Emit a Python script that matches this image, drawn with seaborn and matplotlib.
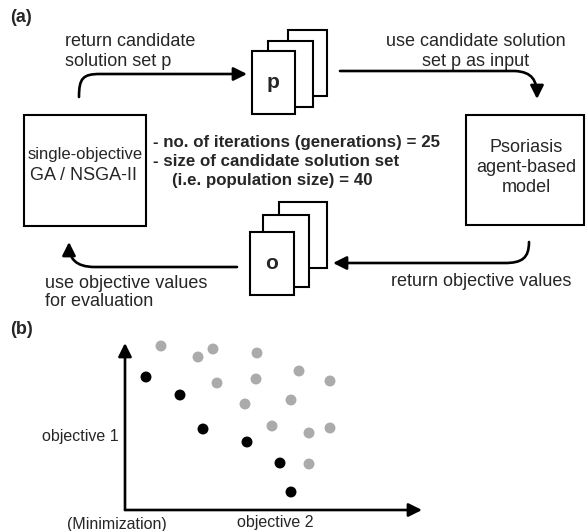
import numpy as np
import pandas as pd
import seaborn as sns
import matplotlib.pyplot as plt
from matplotlib.patches import Rectangle, FancyArrowPatch
from matplotlib.path import Path

# panel (b): candidate solutions in objective space (objective 2, objective 1)
front_obj2 = [21, 55, 78, 122, 155, 166]
front_obj1 = [133, 115, 81, 68, 47, 18]
other_obj2 = [36, 73, 88, 132, 174, 205, 92, 131, 120, 166, 147, 184, 205, 184]
other_obj1 = [164, 153, 161, 157, 139, 129, 127, 131, 106, 110, 84, 77, 82, 46]

# panel (a) labels
algo_lines = ["single-objective", "GA / NSGA-II"]
model_lines = ["Psoriasis", "agent-based", "model"]
settings_lines = ["- no. of iterations (generations) = 25",
                  "- size of candidate solution set",
                  "    (i.e. population size) = 40"]

sns.set_theme(style="white")
plt.rcParams['font.family'] = ['Liberation Sans', 'DejaVu Sans']

W, H = 586, 531
fig = plt.figure(figsize=(W / 100, H / 100), dpi=100)
fig.patch.set_facecolor("white")

# full-figure axes in pixel coords for the flow diagram
ax = fig.add_axes([0, 0, 1, 1])
ax.set_xlim(0, W)
ax.set_ylim(H, 0)
ax.axis("off")

LW = 1.5
FS = 13
HEAD = "-|>,head_length=0.8,head_width=0.4"

def box(x0, y0, x1, y1, z=2):
    ax.add_patch(Rectangle((x0, y0), x1 - x0, y1 - y0, fill=True, facecolor="white",
                           edgecolor="black", lw=LW, zorder=z))

def stack(frames, label):
    # back sheet first, front sheet last (on top)
    for i, (x0, y0, x1, y1) in enumerate(frames):
        box(x0, y0, x1, y1, z=2 + i)
    x0, y0, x1, y1 = frames[-1]
    ax.text((x0 + x1) / 2, (y0 + y1) / 2, label, ha="center", va="center",
            fontsize=15, fontweight="bold", zorder=10)

def curved_arrow(pts, codes):
    p = Path(pts, codes)
    ax.add_patch(FancyArrowPatch(path=p, arrowstyle=HEAD, mutation_scale=10,
                                 lw=1.9, color="black", shrinkA=0, shrinkB=0, zorder=6))

M, C, L = Path.MOVETO, Path.CURVE4, Path.LINETO

# main boxes
box(24, 115, 146, 226)
box(466, 115, 584, 225)
ax.text(85, 155, algo_lines[0], ha="center", va="center", fontsize=12)
ax.text(84, 176, algo_lines[1], ha="center", va="center", fontsize=13)
for i, s in enumerate(model_lines):
    ax.text(526, 147 + 20 * i, s, ha="center", va="center", fontsize=FS)

# stacks of solution sets
stack([(288, 30, 327, 96), (268, 41, 313, 107), (252, 51, 295, 114)], "p")
stack([(279, 202, 327, 268), (263, 215, 309, 287), (250, 232, 294, 295)], "o")

# settings text
for i, s in enumerate(settings_lines):
    ax.text(153, 143 + 18.5 * i, s, ha="left", va="center", fontsize=12.2,
            fontweight="bold")

# arrows
curved_arrow([(79, 97), (79, 78), (83, 74), (100, 74), (247, 74)], [M, C, C, C, L])
curved_arrow([(340, 71), (515, 71), (532, 72), (537, 80), (537, 99)], [M, L, C, C, C])
curved_arrow([(529, 242), (529, 258), (522, 263), (505, 263), (333, 263)], [M, C, C, C, L])
curved_arrow([(237, 267), (95, 267), (75, 267), (69, 258), (69, 242)], [M, L, C, C, C])

# arrow captions
ax.text(65, 41, "return candidate", ha="left", va="center", fontsize=FS)
ax.text(65, 61, "solution set p", ha="left", va="center", fontsize=FS)
ax.text(476, 41, "use candidate solution", ha="center", va="center", fontsize=FS)
ax.text(476, 61, "set p as input", ha="center", va="center", fontsize=FS)
ax.text(571, 281, "return objective values", ha="right", va="center", fontsize=FS)
ax.text(45, 283, "use objective values", ha="left", va="center", fontsize=FS)
ax.text(45, 302, "for evaluation", ha="left", va="center", fontsize=FS)

ax.text(10, 17, "(a)", ha="left", va="center", fontsize=13, fontweight="bold")
ax.text(10, 330, "(b)", ha="left", va="center", fontsize=13, fontweight="bold")

# panel (b): objective space scatter
x0, y0, x1, y1 = 125, 343, 422, 510
axb = fig.add_axes([x0 / W, (H - y1) / H, (x1 - x0) / W, (y1 - y0) / H])
axb.patch.set_alpha(0)
df = pd.DataFrame({
    "objective 2": front_obj2 + other_obj2,
    "objective 1": front_obj1 + other_obj1,
    "set": ["front"] * len(front_obj2) + ["other"] * len(other_obj2),
})
sns.scatterplot(data=df, x="objective 2", y="objective 1", hue="set",
                palette={"front": "black", "other": "#ababab"}, s=62,
                linewidth=0, legend=False, ax=axb, clip_on=False)
axb.set_xlim(0, x1 - x0)
axb.set_ylim(0, y1 - y0)
for sp in axb.spines.values():
    sp.set_visible(False)
axb.set_xticks([])
axb.set_yticks([])
axb.set_xlabel("")
axb.set_ylabel("")
arrow_kw = dict(arrowstyle=HEAD, mutation_scale=10,
                lw=1.9, color="black", shrinkA=0, shrinkB=0)
axb.annotate("", xy=(1, 0), xytext=(0, 0), xycoords="axes fraction",
             arrowprops=arrow_kw, annotation_clip=False)
axb.annotate("", xy=(0, 1), xytext=(0, 0), xycoords="axes fraction",
             arrowprops=arrow_kw, annotation_clip=False)
axb.text(-6, 73, "objective 1", ha="right", va="center", fontsize=11.5, clip_on=False)
axb.text(150, -12, "objective 2", ha="center", va="center", fontsize=11.5, clip_on=False)
axb.text(-8, -15, "(Minimization)", ha="center", va="center", fontsize=11.5, clip_on=False)

fig.savefig("out.png", dpi=100, facecolor="white")
